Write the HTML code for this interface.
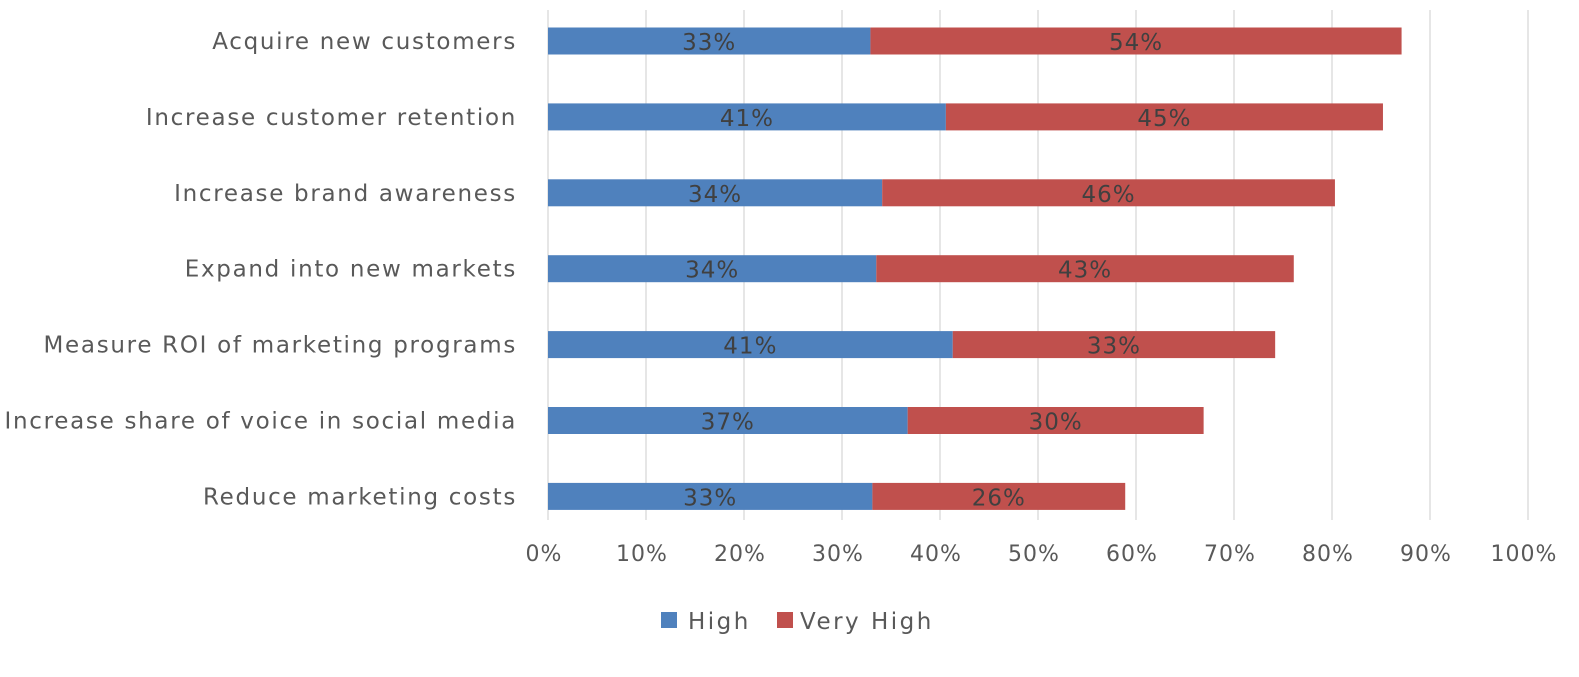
<!DOCTYPE html>
<html><head><meta charset="utf-8"><style>
html,body{margin:0;padding:0;background:#fff;}
svg{display:block;font-family:"DejaVu Sans",sans-serif;}
text{letter-spacing:1px;font-family:"DejaVu Sans",sans-serif;}
</style></head><body>
<svg id="chart" width="1579" height="677"></svg>
<script>
const categories=["Acquire new customers","Increase customer retention","Increase brand awareness","Expand into new markets","Measure ROI of marketing programs","Increase share of voice in social media","Reduce marketing costs"];
const highValues=[32.9,40.6,34.1,33.5,41.3,36.7,33.1];
const veryHighValues=[54.2,44.6,46.2,42.6,32.9,30.2,25.8];
const tickValues=[0,10,20,30,40,50,60,70,80,90,100];
const NS="http://www.w3.org/2000/svg";
const svg=document.getElementById("chart");
const x0=548,x1=1528;
const xs=v=>x0+(x1-x0)*v/100;
const rowY=i=>41+i*75.9;
const barH=27;
function mk(t,a,p){const e=document.createElementNS(NS,t);for(const k in a)e.setAttribute(k,a[k]);(p||svg).appendChild(e);return e;}
tickValues.forEach(t=>{
 const g=mk("line",{x1:xs(t),x2:xs(t),y1:10,y2:520,stroke:"#d9d9d9","stroke-width":1.3});
 
 
 const l=mk("text",{x:xs(t)-4,y:561,"text-anchor":"middle","font-size":22,fill:"#595959"});
 l.textContent=t+"%";
 
 
});
categories.forEach((c,i)=>{
 const y=rowY(i);
 const lab=mk("text",{x:517,y:y+8,"text-anchor":"end","font-size":23,fill:"#595959",style:"letter-spacing:1.7px"});
 lab.textContent=c;
 
 
 const b1=mk("rect",{x:xs(0),y:y-barH/2,width:xs(highValues[i])-xs(0),height:barH,fill:"#4f81bd"});
 
 
 const b2=mk("rect",{x:xs(highValues[i]),y:y-barH/2,width:xs(highValues[i]+veryHighValues[i])-xs(highValues[i]),height:barH,fill:"#c0504d"});
 
 
 const t1=mk("text",{x:(xs(0)+xs(highValues[i]))/2,y:y+9,"text-anchor":"middle","font-size":23,fill:"#404040"});
 t1.textContent=Math.round(highValues[i])+"%";
 
 
 const t2=mk("text",{x:(xs(highValues[i])+xs(highValues[i]+veryHighValues[i]))/2,y:y+9,"text-anchor":"middle","font-size":23,fill:"#404040"});
 t2.textContent=Math.round(veryHighValues[i])+"%";
 
 
});
</script>
<svg style="position:absolute;left:0;top:0" width="1579" height="677">
 <rect x="661" y="612" width="16" height="16" fill="#4f81bd"/>
 <text x="688" y="629" font-size="23" style="letter-spacing:2.5px" fill="#595959">High</text>
 <rect x="777" y="612" width="16" height="16" fill="#c0504d"/>
 <text x="800" y="629" font-size="23" style="letter-spacing:2.5px" fill="#595959">Very High</text>
</svg>
</body></html>
